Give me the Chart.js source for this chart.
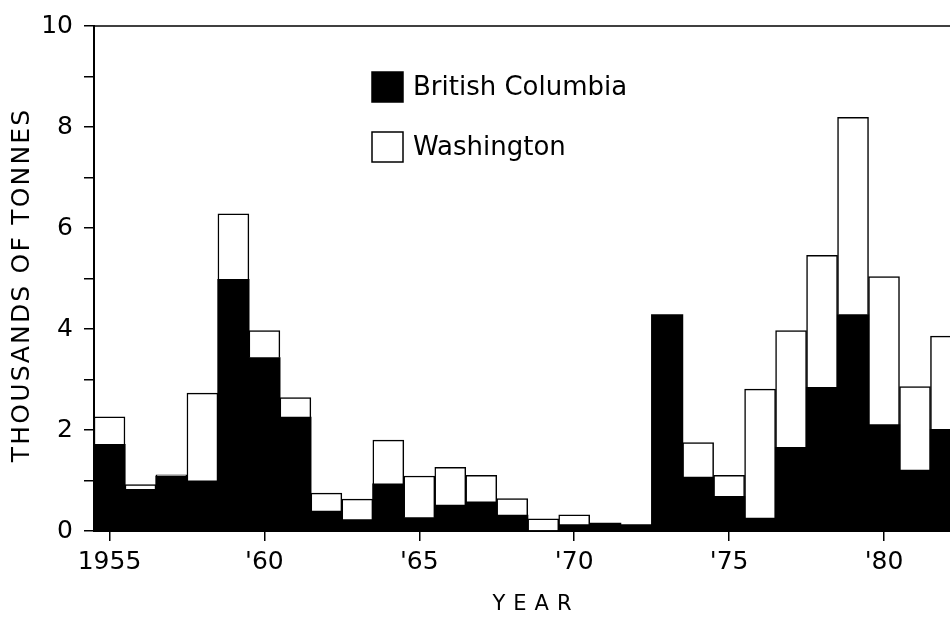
<!DOCTYPE html>
<html>
<head>
<meta charset="utf-8">
<script src="https://cdn.jsdelivr.net/npm/chart.js@4/dist/chart.umd.min.js"></script>
<style>
  html, body { margin: 0; padding: 0; background: #fff; }
  #wrap { width: 950px; height: 617px; }
</style>
</head>
<body>
<div id="wrap"><canvas id="catchChart" width="950" height="617"></canvas></div>
<script>
const years = [1955, 1956, 1957, 1958, 1959, 1960, 1961, 1962, 1963, 1964,
               1965, 1966, 1967, 1968, 1969, 1970, 1971, 1972, 1973, 1974,
               1975, 1976, 1977, 1978, 1979, 1980, 1981, 1982];
// thousands of tonnes
const britishColumbia = [1.71, 0.82, 1.08, 0.99, 4.98, 3.43, 2.25, 0.39, 0.22, 0.93,
                         0.26, 0.51, 0.57, 0.31, 0.00, 0.12, 0.15, 0.12, 4.28, 1.06,
                         0.68, 0.25, 1.65, 2.84, 4.28, 2.10, 1.20, 2.01];
const washington = [0.55, 0.10, 0.03, 1.74, 1.30, 0.54, 0.39, 0.36, 0.41, 0.87,
                    0.83, 0.75, 0.53, 0.33, 0.24, 0.20, 0.00, 0.00, 0.00, 0.69,
                    0.42, 2.56, 2.32, 2.62, 3.91, 2.94, 1.66, 1.85];
const xTickYears = [1955, 1960, 1965, 1970, 1975, 1980];
const xTickLabels = ['1955', "'60", "'65", "'70", "'75", "'80"];
const yTickLabels = ['0', '2', '4', '6', '8', '10'];

const FONT = "'DejaVu Sans', sans-serif";

function spacedText(ctx, text, x, y, spacing) {
    // draw text centred on x with extra letter spacing
    let total = 0;
    const widths = [];
    for (const ch of text) {
        const w = ctx.measureText(ch).width;
        widths.push(w);
        total += w;
    }
    total += spacing * (widths.length - 1);
    let cx = x - total / 2;
    let i = 0;
    for (const ch of text) {
        ctx.fillText(ch, cx, y);
        cx += widths[i++] + spacing;
    }
}

const extras = {
    id: 'extras',
    afterDraw(chart) {
        const ctx = chart.ctx;
        const area = chart.chartArea;
        ctx.save();
        ctx.strokeStyle = '#000';
        ctx.fillStyle = '#000';

        // top frame line
        ctx.lineWidth = 1.5;
        ctx.beginPath();
        ctx.moveTo(area.left, area.top);
        ctx.lineTo(area.right, area.top);
        ctx.stroke();

        // legend
        const ds = chart.data.datasets;
        const rows = [87, 147];
        ctx.font = '26px ' + FONT;
        ctx.textBaseline = 'middle';
        ctx.textAlign = 'left';
        ds.forEach((d, i) => {
            const cy = rows[i];
            ctx.fillStyle = d.backgroundColor;
            ctx.fillRect(372, cy - 15, 31, 30);
            ctx.lineWidth = 1.5;
            ctx.strokeStyle = '#000';
            ctx.strokeRect(372, cy - 15, 31, 30);
            ctx.fillStyle = '#000';
            ctx.fillText(d.label, 413, cy + 1);
        });

        // axis titles
        ctx.textAlign = 'left';
        ctx.textBaseline = 'middle';
        ctx.font = '21px ' + FONT;
        spacedText(ctx, 'YEAR', 532, 605, 8);

        ctx.translate(22, 286);
        ctx.rotate(-Math.PI / 2);
        ctx.font = '25px ' + FONT;
        spacedText(ctx, 'THOUSANDS OF TONNES', 0, 0, 2.2);
        ctx.restore();
    }
};

new Chart(document.getElementById('catchChart'), {
    type: 'bar',
    data: {
        datasets: [{
            label: 'British Columbia',
            data: years.map((y, i) => ({ x: y, y: britishColumbia[i] })),
            backgroundColor: '#000',
            borderWidth: 0,
            inflateAmount: 0.6
        }, {
            label: 'Washington',
            data: years.map((y, i) => ({ x: y, y: washington[i] })),
            backgroundColor: '#fff',
            borderColor: '#000',
            borderWidth: 1.5
        }]
    },
    options: {
        responsive: false,
        animation: false,
        categoryPercentage: 1,
        barPercentage: 1,
        layout: { padding: { top: 19, right: 0, left: 0, bottom: 0 } },
        plugins: {
            legend: { display: false },
            tooltip: { enabled: false }
        },
        scales: {
            x: {
                type: 'linear',
                stacked: true,
                offset: false,
                min: 1954.5,
                max: 1982.13,
                afterBuildTicks: (scale) => {
                    scale.ticks = xTickYears.map(v => ({ value: v }));
                },
                afterFit: (scale) => { scale.height = 86; },
                ticks: {
                    color: '#000',
                    font: { family: FONT, size: 25 },
                    padding: 6,
                    maxRotation: 0,
                    callback: (v) => {
                        const k = xTickYears.indexOf(v);
                        return k >= 0 ? xTickLabels[k] : '';
                    }
                },
                grid: {
                    offset: false,
                    drawOnChartArea: false,
                    drawTicks: true,
                    tickLength: 10,
                    color: '#000',
                    lineWidth: 1.5
                },
                border: { display: true, color: '#000', width: 2 }
            },
            y: {
                stacked: true,
                min: 0,
                max: 10,
                afterFit: (scale) => { scale.width = 94; },
                ticks: {
                    stepSize: 1,
                    color: '#000',
                    font: { family: FONT, size: 25 },
                    padding: 11,
                    callback: (v) => (v % 2 === 0 ? yTickLabels[v / 2] : '')
                },
                grid: {
                    drawOnChartArea: false,
                    drawTicks: true,
                    tickLength: 10,
                    color: '#000',
                    lineWidth: 1.5
                },
                border: { display: true, color: '#000', width: 2 }
            }
        }
    },
    plugins: [extras]
});
</script>
</body>
</html>
